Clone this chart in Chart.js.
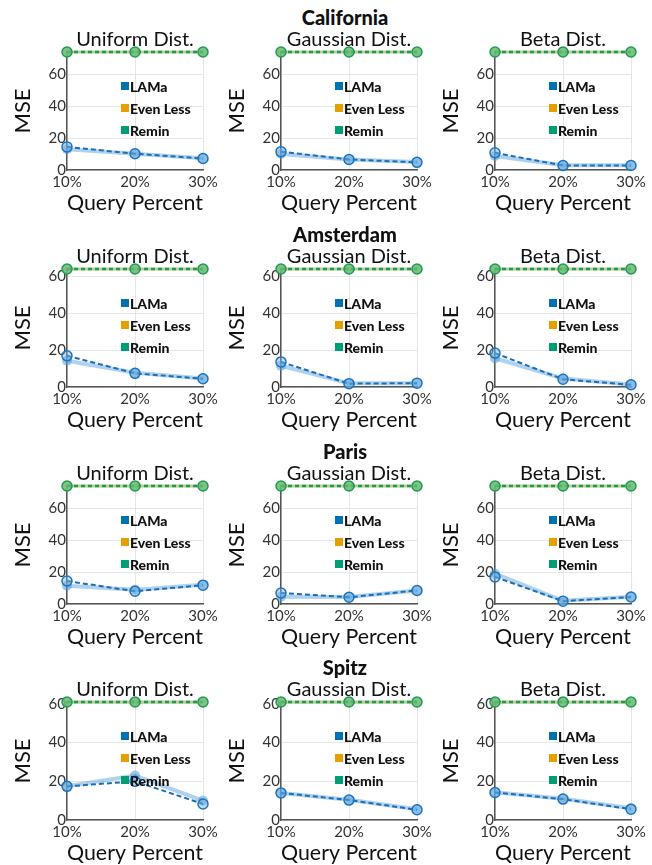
<!DOCTYPE html>
<html>
<head>
<meta charset="utf-8">
<script src="https://cdn.jsdelivr.net/npm/chart.js@4"></script>
<style>
  body { margin: 0; background: #fff; width: 652px; height: 865px; position: relative; overflow: hidden; font-family: Lato, sans-serif; }
  .box { position: absolute; }
  .city { position: absolute; width: 200px; text-align: center; font-weight: 900; font-size: 20px; color: #111; line-height: 22px; }
</style>
</head>
<body>
<script>
// Small multiples: MSE vs. query percent, one row per dataset, one column per distribution.

const queryLabels = ["10%", "20%", "30%"];
const distributions = ["Uniform Dist.", "Gaussian Dist.", "Beta Dist."];
const cities = ["California", "Amsterdam", "Paris", "Spitz"];
const legendNames = ["LAMa", "Even Less", "Remin"];

// Remin / Even Less sit flat at the top of every panel of a row
const reminMSE = [
  [74, 74, 74],
  [64, 64, 64],
  [74, 74, 74],
  [61, 61, 61],
];

// LAMa, light solid line (per city, per distribution)
const lamaSolid = [
  [[13.0, 10.2, 7.4], [10.0, 6.6, 5.0], [8.8, 3.0, 3.0]],
  [[14.2, 7.7, 4.6], [11.5, 2.0, 2.0], [15.6, 4.6, 1.4]],
  [[11.5, 9.0, 12.0], [4.6, 4.4, 8.5], [19.0, 2.0, 4.6]],
  [[17.4, 23.0, 10.0], [14.0, 10.5, 5.6], [14.4, 11.0, 6.1]],
];

// LAMa, dashed line
const lamaDashed = [
  [[14.5, 10.2, 7.2], [11.5, 6.6, 4.8], [10.8, 2.8, 2.8]],
  [[16.9, 7.4, 4.5], [13.6, 1.8, 2.1], [18.4, 4.2, 1.2]],
  [[14.4, 8.0, 11.8], [6.9, 4.2, 8.5], [17.0, 1.8, 4.4]],
  [[17.4, 20.0, 8.3], [14.0, 10.3, 5.3], [14.2, 10.8, 5.6]],
];

const COLORS = { lama: "#0072B2", even: "#E69F00", remin: "#009E73" };
const legendColors = [COLORS.lama, COLORS.even, COLORS.remin];

// panel geometry
const PLOT_LEFT = [67, 281, 495];
const PLOT_TOP = [52, 269, 486, 702];
const PLOT_W = 136, PLOT_H = 118;
const AXIS_W = 67, TOP_SPACE = 30, X_H = 48, RIGHT_PAD = 18, BOTTOM_PAD = 4;

Chart.defaults.font.family = "Lato, 'DejaVu Sans', sans-serif";
Chart.defaults.color = "#333";

const insideLegend = {
  id: "insideLegend",
  afterDatasetsDraw(chart) {
    const { ctx, chartArea } = chart;
    ctx.save();
    ctx.font = "900 14px Lato, sans-serif";
    ctx.textBaseline = "middle";
    legendNames.forEach((name, i) => {
      const x = chartArea.left + 54, y = chartArea.top + 34 + i * 22;
      ctx.fillStyle = legendColors[i];
      ctx.fillRect(x, y - 4, 8, 8);
      ctx.fillStyle = "#111";
      ctx.fillText(name, x + 9, y + 1);
    });
    ctx.restore();
  },
};

function makePanel(row, col) {
  const wrap = document.createElement("div");
  wrap.className = "box";
  wrap.style.left = (PLOT_LEFT[col] - AXIS_W) + "px";
  wrap.style.top = (PLOT_TOP[row] - TOP_SPACE) + "px";
  wrap.style.width = (AXIS_W + PLOT_W + RIGHT_PAD) + "px";
  wrap.style.height = (TOP_SPACE + PLOT_H + X_H + BOTTOM_PAD) + "px";
  const canvas = document.createElement("canvas");
  wrap.appendChild(canvas);
  document.body.appendChild(wrap);

  const yMax = Math.max(...reminMSE[row]);
  const pts = { pointRadius: 5, pointHoverRadius: 5, clip: false, tension: 0 };

  new Chart(canvas, {
    type: "line",
    data: {
      labels: queryLabels,
      datasets: [
        { ...pts, label: "LAMa", data: lamaDashed[row][col], borderColor: "#1a6fb8", borderWidth: 2,
          borderDash: [5, 3], pointBorderColor: "#1a74c0", pointBorderWidth: 1.5,
          pointBackgroundColor: "rgba(120,180,225,0.45)" },
        { ...pts, label: "LAMa (solid)", data: lamaSolid[row][col], borderColor: "rgba(80,155,215,0.45)",
          borderWidth: 4, pointBorderWidth: 0, pointBackgroundColor: "rgba(80,155,215,0.55)" },
        { ...pts, label: "Remin", data: reminMSE[row], borderColor: "#1e9a5a", borderWidth: 2.5,
          borderDash: [4, 3], pointBorderColor: "#239a50", pointBorderWidth: 1.5,
          pointBackgroundColor: "rgba(110,190,120,0.7)" },
        { ...pts, label: "Remin (solid)", data: reminMSE[row], borderColor: "rgba(110,185,110,0.45)",
          borderWidth: 3, pointBorderWidth: 0, pointBackgroundColor: "rgba(90,185,110,0.6)" },
        { ...pts, label: "Even Less", data: reminMSE[row], borderColor: "rgba(230,159,0,0.3)",
          borderWidth: 3, pointRadius: 0 },
      ],
    },
    options: {
      responsive: true, maintainAspectRatio: false, animation: false,
      layout: { padding: { top: 6, right: RIGHT_PAD, bottom: BOTTOM_PAD, left: 0 } },
      plugins: {
        legend: { display: false },
        tooltip: { enabled: false },
        title: {
          display: true, fullSize: false, text: distributions[col], color: "#111",
          font: { size: 20, weight: "normal" }, padding: { top: 0, bottom: 0 },
        },
      },
      scales: {
        x: {
          grid: { color: "#e6e6e6", drawTicks: false },
          border: { color: "#555", width: 1.5 },
          ticks: { padding: 3, font: { size: 15 }, color: "#333", maxRotation: 0, autoSkip: false },
          title: { display: true, text: "Query Percent", color: "#111", font: { size: 22 },
            padding: { top: 0, bottom: 2 } },
          afterFit(s) { s.height = X_H; },
        },
        y: {
          min: 0, max: yMax,
          grid: { color: "#e6e6e6", drawTicks: false },
          border: { color: "#555", width: 1.5 },
          ticks: { stepSize: 20, includeBounds: false, padding: 1, font: { size: 15 }, color: "#333" },
          title: { display: true, text: "MSE", color: "#111", font: { size: 22 }, padding: { top: 10 } },
          afterFit(s) { s.width = AXIS_W; },
        },
      },
    },
    plugins: [insideLegend],
  });
}

cities.forEach((city, row) => {
  const t = document.createElement("div");
  t.className = "city";
  t.textContent = city;
  t.style.left = (345 - 100) + "px";
  t.style.top = (PLOT_TOP[row] - 46) + "px";
  document.body.appendChild(t);
  distributions.forEach((d, col) => makePanel(row, col));
});
</script>
</body>
</html>
